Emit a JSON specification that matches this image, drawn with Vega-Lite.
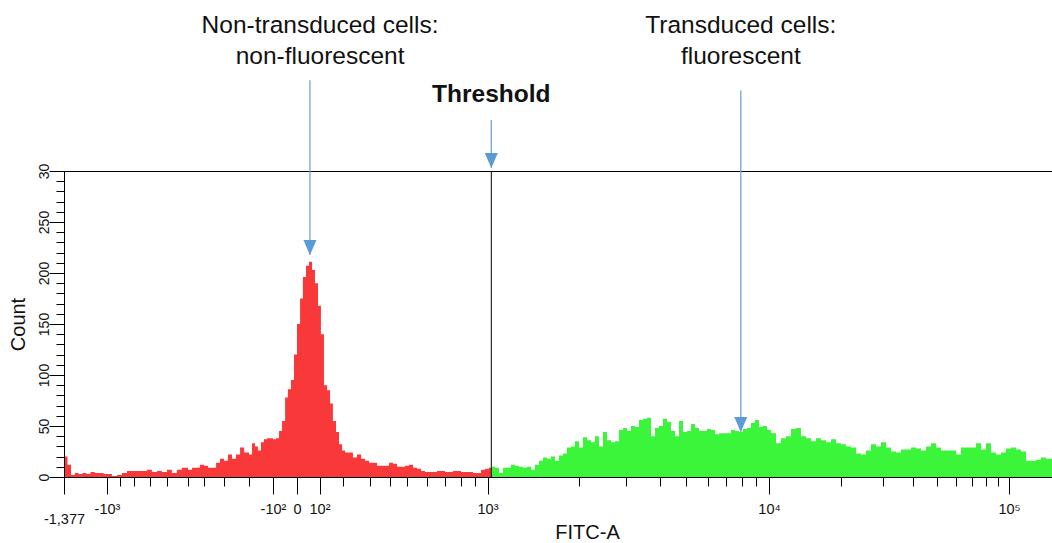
{
  "$schema": "https://vega.github.io/schema/vega-lite/v6.json",
  "width": 988,
  "height": 306,
  "autosize": "none",
  "padding": {"left": 64, "top": 171, "right": 0, "bottom": 66},
  "background": "white",
  "config": {
    "view": {"stroke": "black", "strokeWidth": 1},
    "font": "Liberation Sans"
  },
  "datasets": {
    "hist": [
      {"fitc": -1377, "count": 20, "gate": "negative"}, {"fitc": -1342, "count": 12, "gate": "negative"},
      {"fitc": -1307, "count": 2, "gate": "negative"}, {"fitc": -1272, "count": 4, "gate": "negative"},
      {"fitc": -1237, "count": 3, "gate": "negative"}, {"fitc": -1202, "count": 4, "gate": "negative"},
      {"fitc": -1166, "count": 3, "gate": "negative"}, {"fitc": -1131, "count": 5, "gate": "negative"},
      {"fitc": -1096, "count": 4, "gate": "negative"}, {"fitc": -1061, "count": 4, "gate": "negative"},
      {"fitc": -1026, "count": 3, "gate": "negative"}, {"fitc": -1000, "count": 3, "gate": "negative"},
      {"fitc": -960, "count": 1, "gate": "negative"}, {"fitc": -921, "count": 2, "gate": "negative"},
      {"fitc": -883, "count": 4, "gate": "negative"}, {"fitc": -847, "count": 6, "gate": "negative"},
      {"fitc": -812, "count": 6, "gate": "negative"}, {"fitc": -779, "count": 6, "gate": "negative"},
      {"fitc": -747, "count": 6, "gate": "negative"}, {"fitc": -716, "count": 7, "gate": "negative"},
      {"fitc": -686, "count": 5, "gate": "negative"}, {"fitc": -657, "count": 6, "gate": "negative"},
      {"fitc": -629, "count": 5, "gate": "negative"}, {"fitc": -602, "count": 7, "gate": "negative"},
      {"fitc": -577, "count": 4, "gate": "negative"}, {"fitc": -552, "count": 7, "gate": "negative"},
      {"fitc": -528, "count": 9, "gate": "negative"}, {"fitc": -500, "count": 7, "gate": "negative"},
      {"fitc": -473, "count": 9, "gate": "negative"}, {"fitc": -448, "count": 9, "gate": "negative"},
      {"fitc": -424, "count": 12, "gate": "negative"}, {"fitc": -400, "count": 11, "gate": "negative"},
      {"fitc": -378, "count": 9, "gate": "negative"}, {"fitc": -357, "count": 9, "gate": "negative"},
      {"fitc": -336, "count": 14, "gate": "negative"}, {"fitc": -317, "count": 18, "gate": "negative"},
      {"fitc": -298, "count": 16, "gate": "negative"}, {"fitc": -281, "count": 22, "gate": "negative"},
      {"fitc": -264, "count": 18, "gate": "negative"}, {"fitc": -248, "count": 22, "gate": "negative"},
      {"fitc": -232, "count": 29, "gate": "negative"}, {"fitc": -217, "count": 24, "gate": "negative"},
      {"fitc": -200, "count": 22, "gate": "negative"}, {"fitc": -185, "count": 33, "gate": "negative"},
      {"fitc": -171, "count": 30, "gate": "negative"}, {"fitc": -158, "count": 26, "gate": "negative"},
      {"fitc": -145, "count": 34, "gate": "negative"}, {"fitc": -133, "count": 37, "gate": "negative"},
      {"fitc": -121, "count": 38, "gate": "negative"}, {"fitc": -110, "count": 38, "gate": "negative"},
      {"fitc": -100, "count": 37, "gate": "negative"}, {"fitc": -83, "count": 38, "gate": "negative"},
      {"fitc": -68, "count": 45, "gate": "negative"}, {"fitc": -54, "count": 55, "gate": "negative"},
      {"fitc": -41, "count": 78, "gate": "negative"}, {"fitc": -30, "count": 86, "gate": "negative"},
      {"fitc": -19, "count": 95, "gate": "negative"}, {"fitc": -9, "count": 120, "gate": "negative"},
      {"fitc": 0, "count": 150, "gate": "negative"}, {"fitc": 10, "count": 175, "gate": "negative"},
      {"fitc": 20, "count": 196, "gate": "negative"}, {"fitc": 32, "count": 207, "gate": "negative"},
      {"fitc": 45, "count": 211, "gate": "negative"}, {"fitc": 59, "count": 203, "gate": "negative"},
      {"fitc": 74, "count": 190, "gate": "negative"}, {"fitc": 91, "count": 168, "gate": "negative"},
      {"fitc": 105, "count": 140, "gate": "negative"}, {"fitc": 116, "count": 90, "gate": "negative"},
      {"fitc": 128, "count": 85, "gate": "negative"}, {"fitc": 140, "count": 72, "gate": "negative"},
      {"fitc": 152, "count": 55, "gate": "negative"}, {"fitc": 166, "count": 44, "gate": "negative"},
      {"fitc": 180, "count": 32, "gate": "negative"}, {"fitc": 195, "count": 26, "gate": "negative"},
      {"fitc": 207, "count": 24, "gate": "negative"}, {"fitc": 220, "count": 24, "gate": "negative"},
      {"fitc": 234, "count": 19, "gate": "negative"}, {"fitc": 249, "count": 22, "gate": "negative"},
      {"fitc": 265, "count": 18, "gate": "negative"}, {"fitc": 281, "count": 16, "gate": "negative"},
      {"fitc": 298, "count": 14, "gate": "negative"}, {"fitc": 315, "count": 14, "gate": "negative"},
      {"fitc": 334, "count": 11, "gate": "negative"}, {"fitc": 353, "count": 11, "gate": "negative"},
      {"fitc": 373, "count": 11, "gate": "negative"}, {"fitc": 394, "count": 14, "gate": "negative"},
      {"fitc": 416, "count": 13, "gate": "negative"}, {"fitc": 439, "count": 10, "gate": "negative"},
      {"fitc": 462, "count": 10, "gate": "negative"}, {"fitc": 487, "count": 11, "gate": "negative"},
      {"fitc": 509, "count": 12, "gate": "negative"}, {"fitc": 528, "count": 9, "gate": "negative"},
      {"fitc": 547, "count": 8, "gate": "negative"}, {"fitc": 567, "count": 6, "gate": "negative"},
      {"fitc": 587, "count": 5, "gate": "negative"}, {"fitc": 608, "count": 5, "gate": "negative"},
      {"fitc": 630, "count": 5, "gate": "negative"}, {"fitc": 652, "count": 6, "gate": "negative"},
      {"fitc": 675, "count": 6, "gate": "negative"}, {"fitc": 699, "count": 5, "gate": "negative"},
      {"fitc": 723, "count": 5, "gate": "negative"}, {"fitc": 748, "count": 6, "gate": "negative"},
      {"fitc": 774, "count": 6, "gate": "negative"}, {"fitc": 801, "count": 5, "gate": "negative"},
      {"fitc": 829, "count": 5, "gate": "negative"}, {"fitc": 857, "count": 5, "gate": "negative"},
      {"fitc": 886, "count": 4, "gate": "negative"}, {"fitc": 916, "count": 4, "gate": "negative"},
      {"fitc": 948, "count": 7, "gate": "negative"}, {"fitc": 980, "count": 8, "gate": "negative"},
      {"fitc": 1012, "count": 9, "gate": "negative"}, {"fitc": 1030, "count": 9, "gate": "negative"},
      {"fitc": 1030, "count": 10, "gate": "positive"}, {"fitc": 1060, "count": 9, "gate": "positive"},
      {"fitc": 1093, "count": 4, "gate": "positive"}, {"fitc": 1127, "count": 9, "gate": "positive"},
      {"fitc": 1162, "count": 9, "gate": "positive"}, {"fitc": 1199, "count": 12, "gate": "positive"},
      {"fitc": 1236, "count": 11, "gate": "positive"}, {"fitc": 1274, "count": 10, "gate": "positive"},
      {"fitc": 1313, "count": 9, "gate": "positive"}, {"fitc": 1354, "count": 10, "gate": "positive"},
      {"fitc": 1396, "count": 7, "gate": "positive"}, {"fitc": 1439, "count": 12, "gate": "positive"},
      {"fitc": 1483, "count": 16, "gate": "positive"}, {"fitc": 1528, "count": 19, "gate": "positive"},
      {"fitc": 1575, "count": 18, "gate": "positive"}, {"fitc": 1623, "count": 20, "gate": "positive"},
      {"fitc": 1672, "count": 16, "gate": "positive"}, {"fitc": 1723, "count": 21, "gate": "positive"},
      {"fitc": 1775, "count": 23, "gate": "positive"}, {"fitc": 1829, "count": 29, "gate": "positive"},
      {"fitc": 1884, "count": 30, "gate": "positive"}, {"fitc": 1941, "count": 35, "gate": "positive"},
      {"fitc": 2000, "count": 29, "gate": "positive"}, {"fitc": 2071, "count": 39, "gate": "positive"},
      {"fitc": 2143, "count": 36, "gate": "positive"}, {"fitc": 2219, "count": 34, "gate": "positive"},
      {"fitc": 2297, "count": 40, "gate": "positive"}, {"fitc": 2377, "count": 30, "gate": "positive"},
      {"fitc": 2461, "count": 44, "gate": "positive"}, {"fitc": 2547, "count": 36, "gate": "positive"},
      {"fitc": 2636, "count": 34, "gate": "positive"}, {"fitc": 2728, "count": 35, "gate": "positive"},
      {"fitc": 2823, "count": 46, "gate": "positive"}, {"fitc": 2922, "count": 48, "gate": "positive"},
      {"fitc": 3023, "count": 45, "gate": "positive"}, {"fitc": 3128, "count": 50, "gate": "positive"},
      {"fitc": 3237, "count": 49, "gate": "positive"}, {"fitc": 3349, "count": 56, "gate": "positive"},
      {"fitc": 3465, "count": 57, "gate": "positive"}, {"fitc": 3585, "count": 58, "gate": "positive"},
      {"fitc": 3709, "count": 40, "gate": "positive"}, {"fitc": 3836, "count": 48, "gate": "positive"},
      {"fitc": 3969, "count": 50, "gate": "positive"}, {"fitc": 4106, "count": 57, "gate": "positive"},
      {"fitc": 4246, "count": 54, "gate": "positive"}, {"fitc": 4393, "count": 45, "gate": "positive"},
      {"fitc": 4544, "count": 40, "gate": "positive"}, {"fitc": 4700, "count": 55, "gate": "positive"},
      {"fitc": 4861, "count": 44, "gate": "positive"}, {"fitc": 5028, "count": 45, "gate": "positive"},
      {"fitc": 5200, "count": 52, "gate": "positive"}, {"fitc": 5378, "count": 48, "gate": "positive"},
      {"fitc": 5562, "count": 45, "gate": "positive"}, {"fitc": 5753, "count": 45, "gate": "positive"},
      {"fitc": 5949, "count": 47, "gate": "positive"}, {"fitc": 6153, "count": 46, "gate": "positive"},
      {"fitc": 6363, "count": 42, "gate": "positive"}, {"fitc": 6581, "count": 43, "gate": "positive"},
      {"fitc": 6806, "count": 43, "gate": "positive"}, {"fitc": 7037, "count": 43, "gate": "positive"},
      {"fitc": 7278, "count": 46, "gate": "positive"}, {"fitc": 7525, "count": 45, "gate": "positive"},
      {"fitc": 7781, "count": 44, "gate": "positive"}, {"fitc": 8047, "count": 47, "gate": "positive"},
      {"fitc": 8320, "count": 48, "gate": "positive"}, {"fitc": 8603, "count": 53, "gate": "positive"},
      {"fitc": 8895, "count": 56, "gate": "positive"}, {"fitc": 9198, "count": 49, "gate": "positive"},
      {"fitc": 9512, "count": 50, "gate": "positive"}, {"fitc": 9833, "count": 46, "gate": "positive"},
      {"fitc": 10190, "count": 43, "gate": "positive"}, {"fitc": 10700, "count": 33, "gate": "positive"},
      {"fitc": 11230, "count": 38, "gate": "positive"}, {"fitc": 11780, "count": 40, "gate": "positive"},
      {"fitc": 12360, "count": 47, "gate": "positive"}, {"fitc": 12980, "count": 48, "gate": "positive"},
      {"fitc": 13610, "count": 40, "gate": "positive"}, {"fitc": 14290, "count": 38, "gate": "positive"},
      {"fitc": 14990, "count": 35, "gate": "positive"}, {"fitc": 15730, "count": 38, "gate": "positive"},
      {"fitc": 16500, "count": 36, "gate": "positive"}, {"fitc": 17320, "count": 34, "gate": "positive"},
      {"fitc": 18170, "count": 37, "gate": "positive"}, {"fitc": 19060, "count": 33, "gate": "positive"},
      {"fitc": 20000, "count": 32, "gate": "positive"}, {"fitc": 20990, "count": 30, "gate": "positive"},
      {"fitc": 22020, "count": 29, "gate": "positive"}, {"fitc": 23100, "count": 23, "gate": "positive"},
      {"fitc": 24230, "count": 22, "gate": "positive"}, {"fitc": 25430, "count": 26, "gate": "positive"},
      {"fitc": 26670, "count": 32, "gate": "positive"}, {"fitc": 27980, "count": 30, "gate": "positive"},
      {"fitc": 29350, "count": 34, "gate": "positive"}, {"fitc": 30800, "count": 29, "gate": "positive"},
      {"fitc": 32310, "count": 25, "gate": "positive"}, {"fitc": 33900, "count": 24, "gate": "positive"},
      {"fitc": 35560, "count": 27, "gate": "positive"}, {"fitc": 37310, "count": 27, "gate": "positive"},
      {"fitc": 39140, "count": 29, "gate": "positive"}, {"fitc": 41060, "count": 28, "gate": "positive"},
      {"fitc": 43070, "count": 26, "gate": "positive"}, {"fitc": 45190, "count": 30, "gate": "positive"},
      {"fitc": 47400, "count": 33, "gate": "positive"}, {"fitc": 49730, "count": 29, "gate": "positive"},
      {"fitc": 52170, "count": 26, "gate": "positive"}, {"fitc": 54730, "count": 26, "gate": "positive"},
      {"fitc": 57400, "count": 26, "gate": "positive"}, {"fitc": 60220, "count": 22, "gate": "positive"},
      {"fitc": 63160, "count": 29, "gate": "positive"}, {"fitc": 66270, "count": 29, "gate": "positive"},
      {"fitc": 69510, "count": 29, "gate": "positive"}, {"fitc": 72920, "count": 33, "gate": "positive"},
      {"fitc": 76490, "count": 27, "gate": "positive"}, {"fitc": 80240, "count": 33, "gate": "positive"},
      {"fitc": 84160, "count": 24, "gate": "positive"}, {"fitc": 88300, "count": 22, "gate": "positive"},
      {"fitc": 92610, "count": 24, "gate": "positive"}, {"fitc": 97150, "count": 28, "gate": "positive"},
      {"fitc": 101900, "count": 29, "gate": "positive"}, {"fitc": 106900, "count": 27, "gate": "positive"},
      {"fitc": 112200, "count": 25, "gate": "positive"}, {"fitc": 117700, "count": 16, "gate": "positive"},
      {"fitc": 123500, "count": 16, "gate": "positive"}, {"fitc": 129500, "count": 17, "gate": "positive"},
      {"fitc": 135800, "count": 19, "gate": "positive"}, {"fitc": 142500, "count": 18, "gate": "positive"},
      {"fitc": 151000, "count": 18, "gate": "positive"}
    ],
    "notes": [
      {"fitc": 102, "count": 435, "note": "Non-transduced cells:"},
      {"fitc": 102, "count": 405, "note": "non-fluorescent"},
      {"fitc": 7900, "count": 435, "note": "Transduced cells:"},
      {"fitc": 7900, "count": 405, "note": "fluorescent"}
    ],
    "arrows": [
      {"fitc": 49, "count": 389, "tip": 217.6},
      {"fitc": 1030, "count": 350, "tip": 303},
      {"fitc": 7900, "count": 379, "tip": 44}
    ]
  },
  "layer": [
    {
      "data": {"name": "hist"},
      "mark": {"type": "area", "interpolate": "step-after"},
      "encoding": {
        "x": {
          "field": "fitc",
          "type": "quantitative",
          "scale": {
            "type": "symlog",
            "constant": 100,
            "domain": [-1377, -1000, -500, -200, -100, 0, 100, 200, 500, 1000, 2000, 10000, 100000, 151000],
            "range": [0, 43, 124, 185, 209, 233, 255.5, 279, 343, 423.5, 515, 705, 945, 988],
            "nice": false,
            "zero": false
          },
          "axis": {
            "values": [-1377, -1000, -900, -800, -700, -600, -500, -400, -300, -200, -100, 0, 100, 200, 300, 400, 500, 600, 700, 800, 900, 1000, 2000, 3000, 4000, 5000, 6000, 7000, 8000, 9000, 10000, 20000, 30000, 40000, 50000, 60000, 70000, 80000, 90000, 100000],
            "tickCount": 500,
            "labelExpr": "datum.value == -1377 ? '-1,377' : datum.value == -1000 ? '-10³' : datum.value == -100 ? '-10²' : datum.value == 0 ? '0' : datum.value == 100 ? '10²' : datum.value == 1000 ? '10³' : datum.value == 10000 ? '10⁴' : datum.value == 100000 ? '10⁵' : ''",
            "tickSize": {"condition": {"test": "indexof([-1377, -1000, -100, 0, 100, 1000, 10000, 100000], datum.value) >= 0", "value": 17}, "value": 9},
            "labelPadding": {"condition": {"test": "datum.value == -1377", "value": 18}, "value": 8},
            "labelFlush": false,
            "labelOverlap": false,
            "labelBaseline": "top",
            "labelAlign": "center",
            "labelFontSize": 14.5,
            "labelColor": "#111111",
            "domainColor": "black",
            "tickColor": "black",
            "grid": false,
            "title": "FITC-A",
            "titleFontSize": 20,
            "titleFontWeight": "normal",
            "titleColor": "#111111",
            "titleX": 523,
            "titleY": 61,
            "titleAlign": "center",
            "titleBaseline": "alphabetic",
            "zindex": 1
          }
        },
        "y": {
          "field": "count",
          "type": "quantitative",
          "stack": null,
          "scale": {"domain": [0, 300], "nice": false},
          "axis": {
            "values": [0, 10, 20, 30, 40, 50, 60, 70, 80, 90, 100, 110, 120, 130, 140, 150, 160, 170, 180, 190, 200, 210, 220, 230, 240, 250, 260, 270, 280, 290, 300],
            "tickCount": 500,
            "format": "d",
            "labelExpr": "datum.value == 300 ? '30' : (datum.value % 50 == 0 ? datum.label : '')",
            "tickSize": {"condition": {"test": "datum.value % 50 == 0", "value": 15}, "value": 8},
            "labelOverlap": false,
            "labelAngle": -90,
            "labelAlign": "center",
            "labelBaseline": "alphabetic",
            "labelPadding": 1,
            "labelFontSize": 14,
            "labelColor": "#111111",
            "domainColor": "black",
            "tickColor": "black",
            "grid": false,
            "title": "Count",
            "titleFontSize": 20,
            "titleFontWeight": "normal",
            "titleColor": "#111111",
            "titleAngle": -90,
            "titleX": -46,
            "titleY": 153,
            "titleAlign": "center",
            "titleBaseline": "middle",
            "zindex": 1
          }
        },
        "color": {
          "field": "gate",
          "type": "nominal",
          "scale": {"domain": ["negative", "positive"], "range": ["#F93939", "#3BF53B"]},
          "legend": null
        }
      }
    },
    {
      "data": {"values": [{"fitc": 1030}]},
      "mark": {"type": "rule", "color": "black", "strokeWidth": 1},
      "encoding": {
        "x": {"field": "fitc", "type": "quantitative"}
      }
    },
    {
      "data": {"name": "arrows"},
      "mark": {"type": "rule", "color": "#6FA3DB", "strokeWidth": 1.3},
      "encoding": {
        "x": {"field": "fitc", "type": "quantitative"},
        "y": {"field": "count", "type": "quantitative"},
        "y2": {"field": "tip"}
      }
    },
    {
      "data": {"name": "arrows"},
      "transform": [{"calculate": "datum.tip", "as": "count"}],
      "mark": {"type": "point", "shape": "M-0.87,-1L0.87,-1L0,1Z", "size": 225, "filled": true, "opacity": 1, "color": "#5B9BD5", "yOffset": -7.5},
      "encoding": {
        "x": {"field": "fitc", "type": "quantitative"},
        "y": {"field": "count", "type": "quantitative"}
      }
    },
    {
      "data": {"name": "notes"},
      "mark": {"type": "text", "fontSize": 24.5, "color": "#111111", "align": "center", "baseline": "alphabetic"},
      "encoding": {
        "x": {"field": "fitc", "type": "quantitative"},
        "y": {"field": "count", "type": "quantitative"},
        "text": {"field": "note"}
      }
    },
    {
      "data": {"values": [{"fitc": 1030, "count": 368, "note": "Threshold"}]},
      "mark": {"type": "text", "fontSize": 24.5, "fontWeight": "bold", "color": "#111111", "align": "center", "baseline": "alphabetic"},
      "encoding": {
        "x": {"field": "fitc", "type": "quantitative"},
        "y": {"field": "count", "type": "quantitative"},
        "text": {"field": "note"}
      }
    }
  ]
}
